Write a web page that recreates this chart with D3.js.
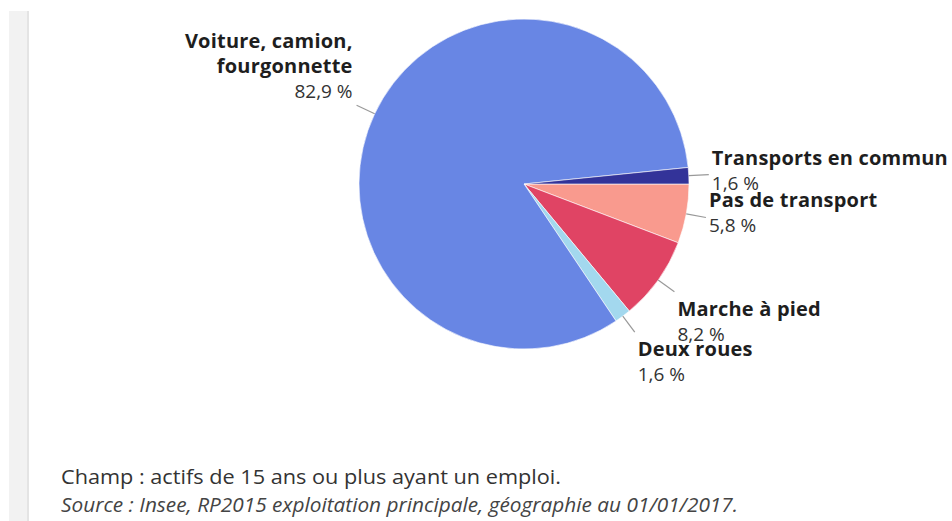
<!DOCTYPE html>
<html>
<head>
<meta charset="utf-8">
<script src="https://cdn.jsdelivr.net/npm/d3@7"></script>
<style>
  html, body { margin: 0; padding: 0; background: #fff; }
  svg { display: block; font-family: "Open Sans", "DejaVu Sans", sans-serif; }
</style>
</head>
<body>
<svg id="chart" width="952" height="521"></svg>
<script>
// Mode de transport pour aller travailler (part des actifs occupés, %)
const categories = [
  "Pas de transport",
  "Marche à pied",
  "Deux roues",
  "Voiture, camion, fourgonnette",
  "Transports en commun"
];
const labelLines = [
  ["Pas de transport"],
  ["Marche à pied"],
  ["Deux roues"],
  ["Voiture, camion,", "fourgonnette"],
  ["Transports en commun"]
];
const values = [5.8, 8.2, 1.6, 82.9, 1.6];
const colors = ["#f99a8e", "#e04464", "#a3d8ee", "#6886e4", "#333399"];
const footnotes = [
  "Champ : actifs de 15 ans ou plus ayant un emploi.",
  "Source : Insee, RP2015 exploitation principale, géographie au 01/01/2017."
];

const svg = d3.select("#chart");
const W = 952, H = 521;

// side panel border
svg.append("rect").attr("x", 9).attr("y", 11).attr("width", 18).attr("height", H - 11).attr("fill", "#f2f2f2");
svg.append("rect").attr("x", 27).attr("y", 11).attr("width", 2).attr("height", H - 11).attr("fill", "#e4e4e4");

const cx = 524, cy = 184, R = 165;
const fmt = v => d3.format(".1f")(v).replace(".", ",") + " %";

const data = categories.map((c, i) => ({ name: c, lines: labelLines[i], value: values[i], color: colors[i] }));

// first slice starts at 3 o'clock and the pie runs clockwise
const pie = d3.pie().value(d => d.value).sort(null)
  .startAngle(Math.PI / 2).endAngle(Math.PI / 2 + 2 * Math.PI);
const arcs = pie(data);
const arc = d3.arc().innerRadius(0).outerRadius(R);

const g = svg.append("g").attr("transform", `translate(${cx},${cy})`);
g.selectAll("path.slice").data(arcs).join("path")
  .attr("class", "slice")
  .attr("d", arc)
  .attr("fill", d => d.data.color)
  .attr("stroke", "#fff")
  .attr("stroke-width", 0.6)
  .attr("stroke-linejoin", "round");

// connectors and data labels
const lineH = 25;
arcs.forEach(a => {
  const mid = (a.startAngle + a.endAngle) / 2;
  const dx = Math.sin(mid), dy = -Math.cos(mid);
  const p0 = [dx * R, dy * R];
  const p1 = [dx * (R + 20), dy * (R + 20)];
  g.append("line")
    .attr("x1", p0[0]).attr("y1", p0[1])
    .attr("x2", p1[0]).attr("y2", p1[1])
    .attr("stroke", "#999").attr("stroke-width", 1.2);

  const right = dx >= 0;
  const lines = a.data.lines.concat([fmt(a.data.value)]);
  const n = lines.length;
  let firstBase;
  if (dy > 0.4) firstBase = p1[1] + 24;                 // below the connector
  else if (dy < -0.4) firstBase = p1[1] - 7 - (n - 1) * lineH; // above it
  else firstBase = p1[1] - 10;                          // centred on it
  const tx = p1[0] + (right ? 3 : -4);

  const t = g.append("text")
    .attr("text-anchor", right ? "start" : "end");
  lines.forEach((s, i) => {
    const isValue = i === n - 1;
    t.append("tspan")
      .attr("x", tx)
      .attr("y", firstBase + i * lineH)
      .attr("font-size", isValue ? 19 : 20)
      .attr("letter-spacing", isValue ? 0 : 0.2)
      .attr("font-weight", isValue ? 400 : 700)
      .attr("fill", isValue ? "#333" : "#1e1e1e")
      .text(s);
  });
});

// footnotes
svg.append("text")
  .attr("x", 61).attr("y", 484)
  .attr("font-size", 20).attr("fill", "#333")
  .attr("textLength", 500).attr("lengthAdjust", "spacingAndGlyphs")
  .text(footnotes[0]);
svg.append("text")
  .attr("x", 61).attr("y", 512)
  .attr("font-size", 20).attr("font-style", "italic").attr("fill", "#444")
  .attr("textLength", 677).attr("lengthAdjust", "spacingAndGlyphs")
  .text(footnotes[1]);
</script>
</body>
</html>
